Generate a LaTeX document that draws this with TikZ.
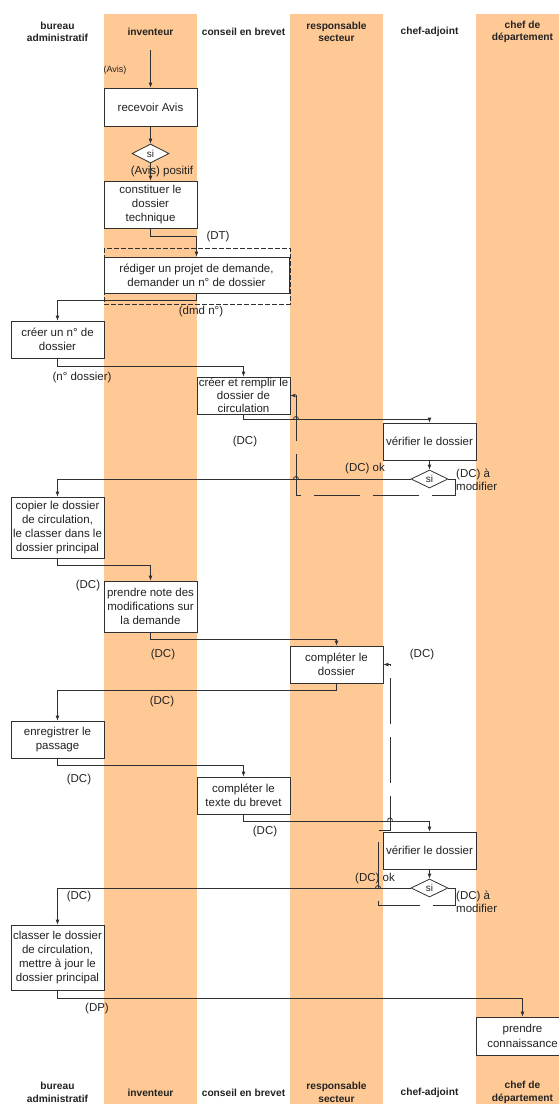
\documentclass[tikz,border=0pt]{standalone}
\usepackage{fontspec}
\setmainfont{Liberation Sans}
\usepackage{tikz}
\usetikzlibrary{shapes.geometric, arrows.meta, calc}
\definecolor{LaneOrange}{HTML}{FFC995}
\definecolor{LineGray}{HTML}{303030}
\definecolor{TextGray}{HTML}{222222}
\tikzset{
    % Node styles
    taskbox/.style={
        rectangle,
        draw=LineGray,
        fill=white,
        line width=0.8pt,
        minimum width=93pt,
        minimum height=37pt,
        inner sep=1pt,
        align=center,
        text=TextGray,
        font=\fontsize{11.5}{14.3}\selectfont
    },
    decision/.style={
        diamond,
        draw=LineGray,
        fill=white,
        line width=0.8pt,
        minimum width=37pt,
        minimum height=19pt,
        inner sep=0pt,
        text=TextGray,
        font=\fontsize{10}{12}\selectfont
    },
    flowlabel/.style={
        text=TextGray,
        inner sep=0pt,
        font=\fontsize{11.5}{13}\selectfont
    },
    smalllabel/.style={
        text=TextGray,
        inner sep=0pt,
        font=\fontsize{9}{11}\selectfont
    },
    lanetitle/.style={
        text=TextGray,
        inner sep=0pt,
        align=center,
        font=\fontsize{10.2}{12.5}\selectfont\bfseries
    },
    lane/.style={
        fill=LaneOrange,
        draw=none
    },
    groupbox/.style={
        draw=LineGray,
        line width=0.8pt,
        dash pattern=on 5pt off 2pt
    },
    % Arrow styles
    myarrow/.style={
        -{Latex[length=5pt,width=4pt]},
        line width=0.8pt,
        LineGray
    },
    myline/.style={
        line width=0.8pt,
        LineGray
    },
    looparrow/.style={
        -{Latex[length=5pt,width=4pt]},
        line width=0.8pt,
        LineGray,
        dash pattern=on 46pt off 13pt
    }
}

\begin{document}
\begin{tikzpicture}[x=1pt, y=-1pt]
    \useasboundingbox (0,0) rectangle (559,1104);

    % Lanes
    \fill[lane] (104,14) rectangle (197,1104);
    \fill[lane] (290,14) rectangle (383,1104);
    \fill[lane] (476,14) rectangle (569,1104);

    % Lane titles (top)
    \node[lanetitle] (hbureau) at (57.5,32) {bureau\\administratif};
    \node[lanetitle] (hinventeur) at (150.5,32) {inventeur};
    \node[lanetitle] (hconseil) at (243.5,32) {conseil en brevet};
    \node[lanetitle] (hresp) at (336.5,32) {responsable\\secteur};
    \node[lanetitle] (hadjoint) at (429.5,32) {chef-adjoint};
    \node[lanetitle] (hdept) at (522.5,32) {chef de\\département};

    % Lane titles (bottom)
    \node[lanetitle] (fbureau) at (57.5,1092.5) {bureau\\administratif};
    \node[lanetitle] (finventeur) at (150.5,1092.5) {inventeur};
    \node[lanetitle] (fconseil) at (243.5,1092.5) {conseil en brevet};
    \node[lanetitle] (fresp) at (336.5,1092.5) {responsable\\secteur};
    \node[lanetitle] (fadjoint) at (429.5,1092.5) {chef-adjoint};
    \node[lanetitle] (fdept) at (522.5,1092.5) {chef de\\département};

    % Group around the request
    \draw[groupbox] (104,248) rectangle (290,304);

    % Steps
    \coordinate (avisin) at (150.5,50);
    \node[taskbox,minimum height=38pt] (recevoir) at (150.5,107) {recevoir Avis};
    \node[decision] (d0) at (150.5,153.5) {si};
    \node[taskbox,minimum height=47pt] (constituer) at (150.5,204.5) {constituer le\\dossier\\technique};
    \node[taskbox,minimum width=185pt,minimum height=36pt] (rediger) at (196.5,275) {rédiger un projet de demande,\\demander un n° de dossier};
    \node[taskbox] (creer) at (57.5,339.5) {créer un n° de\\dossier};
    \node[taskbox,inner sep=0pt,font=\fontsize{11.5}{13.3}\selectfont] (remplir) at (243.5,395.5) {créer et remplir le\\dossier de\\circulation};
    \node[taskbox] (verif1) at (429.5,441.5) {vérifier le dossier};
    \node[decision,minimum height=18pt] (d1) at (429.5,479) {si};
    \node[taskbox,minimum height=61pt] (copier) at (57.5,527.5) {copier le dossier\\de circulation,\\le classer dans le\\dossier principal};
    \node[taskbox,minimum height=51pt] (note) at (150.5,606.5) {prendre note des\\modifications sur\\la demande};
    \node[taskbox] (completer) at (336.5,664.5) {compléter le\\dossier};
    \node[taskbox] (enreg) at (57.5,739.5) {enregistrer le\\passage};
    \node[taskbox] (texte) at (243.5,795.5) {compléter le\\texte du brevet};
    \node[taskbox] (verif2) at (429.5,850.5) {vérifier le dossier};
    \node[decision,minimum height=18pt] (d2) at (429.5,888) {si};
    \node[taskbox,minimum height=65pt] (classer) at (57.5,957.5) {classer le dossier\\de circulation,\\mettre à jour le\\dossier principal};
    \node[taskbox,minimum height=38pt] (connaissance) at (522.5,1036) {prendre\\connaissance};

    % Arrows
    \draw[myarrow] (avisin) -- (recevoir.north);
    \draw[myarrow] (recevoir.south) -- (d0.north);
    \draw[myarrow] (d0.south) -- (constituer.north);
    \draw[myarrow] (constituer.south) -- ++(0,8) -| (rediger.north);
    \draw[myarrow] (rediger.south) -- ++(0,7) -| (creer.north);
    \draw[myarrow] (creer.south) -- ++(0,8) -| (remplir.north);
    \draw[myarrow] (remplir.south) -- ++(0,5) -| (verif1.north);
    \draw[myarrow] (verif1.south) -- (d1.north);
    \draw[myarrow] (d1.west) -| (copier.north);
    \draw[looparrow] (d1.east) -- ++(7,0) -- ++(0,16) -| ([xshift=6pt]remplir.east) -- (remplir.east);
    \draw[myarrow] (copier.south) -- ++(0,7) -| (note.north);
    \draw[myarrow] (note.south) -- ++(0,7) -| (completer.north);
    \draw[myarrow] (completer.south) -- ++(0,7) -| (enreg.north);
    \draw[myarrow] (enreg.south) -- ++(0,7) -| (texte.north);
    \draw[myarrow] (texte.south) -- ++(0,7) -| (verif2.north);
    \draw[myarrow] (verif2.south) -- (d2.north);
    \draw[myarrow] (d2.west) -| (classer.north);
    \draw[looparrow] (d2.east) -- ++(7,0) -- ++(0,17) -| (378,830) -| ([xshift=7pt]completer.east) -- (completer.east);
    \draw[myarrow] (classer.south) -- ++(0,8) -| (connaissance.north);

    % Line hops
    \draw[myline] (293.5,419) arc[start angle=180, end angle=360, radius=2.5];
    \draw[myline] (293.5,479) arc[start angle=180, end angle=360, radius=2.5];
    \draw[myline] (387.5,820.5) arc[start angle=180, end angle=360, radius=2.5];
    \draw[myline] (375.5,888) arc[start angle=180, end angle=360, radius=2.5];

    % Annotations
    \node[smalllabel] (lavis) at (115,70) {(Avis)};
    \node[flowlabel] (lpositif) at (162,172) {(Avis) positif};
    \node[flowlabel] (ldt) at (218,237) {(DT)};
    \node[flowlabel] (ldmd) at (201,312) {(dmd n°)};
    \node[flowlabel] (lnum) at (82,378) {(n° dossier)};
    \node[flowlabel] (ldc1) at (245,442) {(DC)};
    \node[flowlabel] (lok1) at (365,469) {(DC) ok};
    \node[flowlabel,anchor=west,align=left] (lmod1) at (456,479.5) {(DC) à\\modifier};
    \node[flowlabel] (ldc2) at (88,586) {(DC)};
    \node[flowlabel] (ldc3) at (163,655) {(DC)};
    \node[flowlabel] (ldc4) at (422,655) {(DC)};
    \node[flowlabel] (ldc5) at (162,702) {(DC)};
    \node[flowlabel] (ldc6) at (79,780) {(DC)};
    \node[flowlabel] (ldc7) at (265,832) {(DC)};
    \node[flowlabel] (lok2) at (375,879) {(DC) ok};
    \node[flowlabel,anchor=west,align=left] (lmod2) at (456,901.5) {(DC) à\\modifier};
    \node[flowlabel] (ldc8) at (79,897) {(DC)};
    \node[flowlabel] (ldp) at (97,1009) {(DP)};
\end{tikzpicture}
\end{document}
